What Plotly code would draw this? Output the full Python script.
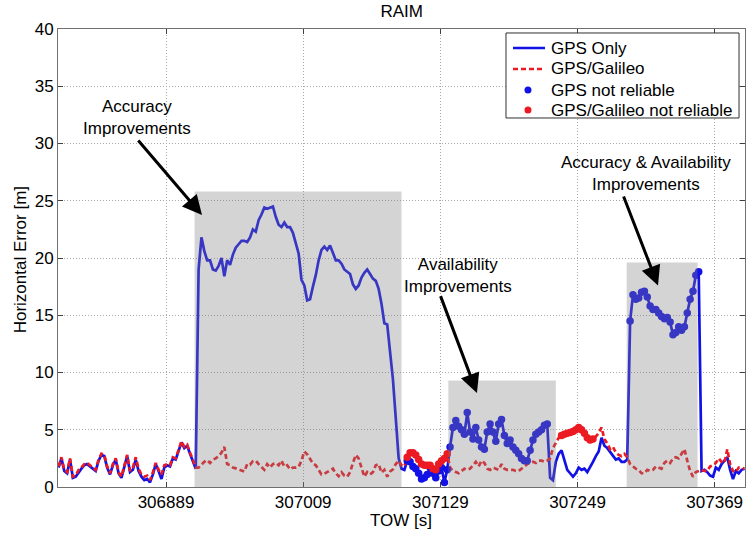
import plotly.graph_objects as go

# ---------------- data ----------------
# TOW [s] sampled every 2.5 s
tow = [306795 + 2.5 * k for k in range(241)]

gps_only = [
    1.7, 2.5, 1.4, 1.2, 2.4, 0.8, 0.9, 1.3, 1.6, 1.9,
    2.0, 1.8, 1.6, 1.4, 2.3, 2.8, 2.7, 1.7, 1.1, 1.9,
    2.4, 1.2, 0.8, 1.8, 2.7, 1.3, 1.5, 2.4, 1.4, 0.9,
    0.6, 0.7, 0.4, 1.1, 2.0, 1.4, 0.7, 1.7, 1.9, 1.8,
    2.5, 2.4, 3.2, 3.9, 3.4, 3.6, 2.9, 2.3, 1.6,
    19.0, 21.8, 20.6, 19.8, 19.8, 19.0, 18.9, 19.3, 20.0, 18.4, 19.8,
    19.4, 20.3, 20.9, 21.2, 21.5, 21.5, 21.4, 21.8, 22.5, 22.3,
    23.3, 23.8, 24.4, 24.3, 24.4, 24.5, 23.6, 22.9, 22.7, 23.1,
    22.7, 22.7, 22.2, 21.4, 20.4, 18.1, 17.6, 16.3, 16.4, 17.5,
    18.5, 19.8, 20.7, 21.0, 20.7, 21.1, 20.5, 19.8, 19.8, 19.5,
    19.0, 18.8, 18.6, 17.7, 17.3, 17.6, 18.3, 18.7, 19.0, 18.6,
    18.2, 18.0, 17.3, 16.0, 14.3, 14.2, 11.6, 9.4, 6.0, 2.5,
    1.6, 1.5, 2.3, 2.2, 1.8, 1.6, 1.2, 0.7, 0.8, 1.1,
    1.7, 1.2, 0.8, 1.4, 1.7, 0.4, 1.5, 3.5, 5.2, 5.8,
    5.3, 5.0, 4.6, 6.5, 4.8, 4.2, 5.2, 4.1, 3.5, 3.3,
    4.8, 5.5, 4.8, 4.0, 5.5, 5.9, 4.5, 3.8, 4.1, 3.5,
    3.2, 2.9, 2.5, 2.3, 2.3, 3.2, 4.1, 4.6, 4.8, 5.0,
    5.4, 5.5, 0.8, 0.6, 2.2, 2.9, 3.2, 2.4, 1.5, 1.2,
    0.9, 1.2, 1.7, 1.5, 1.6, 1.3, 1.7, 2.2, 2.7, 3.1,
    4.3, 3.6, 3.4, 3.1, 2.8, 2.4, 2.5, 2.2, 2.2, 2.4,
    14.5, 16.8, 16.4, 16.5, 17.0, 17.1, 16.6, 15.8, 15.5, 15.5,
    15.2, 14.9, 14.7, 14.8, 14.4, 13.3, 13.5, 14.0, 13.7, 14.0,
    15.2, 16.4, 17.1, 18.5, 18.8, 1.4, 1.5, 1.3, 1.0, 0.9,
    1.7, 1.5, 2.0, 2.3, 2.6, 1.5, 0.7, 1.4, 1.2, 1.5, 1.6,
]

gps_galileo = [
    1.8, 2.6, 1.5, 1.3, 2.5, 0.9, 1.0, 1.5, 1.7, 2.0,
    2.1, 1.9, 1.7, 1.5, 2.4, 2.9, 2.8, 1.8, 1.2, 2.0,
    2.5, 1.3, 0.9, 1.9, 2.8, 1.4, 1.7, 2.6, 1.6, 1.1,
    0.9, 1.0, 0.6, 1.3, 2.1, 1.5, 1.1, 1.9, 2.0, 1.9,
    2.6, 2.5, 3.3, 4.0, 3.5, 3.7, 3.0, 2.4, 1.7,
    1.7, 2.0, 2.2, 2.35, 2.1, 2.4, 2.5, 2.7, 3.0, 3.5, 2.0,
    1.9, 1.7, 1.63, 1.55, 1.45, 1.35, 2.0, 1.95, 2.25, 2.3,
    2.0, 1.7, 1.5, 2.0, 1.7, 2.0, 2.1, 1.9, 2.3, 1.77,
    1.9, 1.55, 1.7, 1.7, 1.75, 2.3, 3.1, 2.85, 2.5, 2.05,
    1.9, 1.55, 1.1, 1.15, 1.3, 1.5, 1.6, 1.2, 0.95, 1.3,
    1.0, 0.9, 1.3, 2.1, 2.8, 2.5, 1.6, 0.9, 1.3, 1.1,
    1.3, 1.9, 2.0, 1.25, 1.5, 0.9, 1.35, 1.55, 2.0, 2.3,
    1.9, 1.8, 2.6, 3.0, 3.0, 2.8, 2.4, 2.0, 1.9, 1.9,
    1.9, 1.6, 1.5, 2.0, 2.3, 2.5, 2.9, 1.7, 1.4, 1.3,
    1.2, 1.4, 1.6, 1.5, 1.6, 1.9, 2.2, 1.8, 2.3, 2.1,
    1.6, 1.5, 1.7, 1.6, 1.5, 2.0, 1.6, 1.5, 1.5, 1.5,
    1.4, 1.4, 1.6, 1.8, 2.0, 2.1, 2.2, 2.1, 2.3, 2.3,
    2.2, 2.3, 2.5, 3.4, 3.8, 4.3, 4.5, 4.6, 4.7, 4.75,
    4.85, 5.0, 5.2, 5.0, 4.7, 4.3, 4.1, 4.2, 4.4, 4.7,
    5.2, 4.2, 3.8, 3.3, 3.5, 3.0, 2.8, 2.7, 2.9, 2.6,
    2.0, 1.8, 1.6, 1.5, 1.2, 1.2, 1.5, 1.4, 1.5, 1.8,
    1.7, 1.6, 2.1, 2.3, 2.1, 2.5, 2.6, 2.5, 2.9, 3.3,
    2.3, 1.4, 0.9, 1.3, 1.4, 1.5, 1.4, 1.4, 1.8, 1.9,
    2.1, 2.5, 2.2, 2.1, 3.3, 2.0, 1.4, 1.3, 1.7, 1.7, 1.6,
]

# periods (TOW start, end) where the solution is flagged not reliable
gps_not_reliable_periods = [(307100, 307222.5), (307295, 307355)]
gal_not_reliable_periods = [(307100, 307135), (307235, 307262.5)]

# highlighted improvement regions
box_start = [306914, 307136, 307292]
box_end = [307095, 307230, 307354]
box_top = [25.8, 9.3, 19.6]

ann_text = ["Accuracy<br>Improvements", "Availability<br>Improvements",
            "Accuracy & Availability<br>Improvements"]
ann_text_x = [306863.6, 307144.4, 307308.9]
ann_text_y = [32.3, 18.5, 27.4]
arrow_tail_x = [306863.6, 307128.7, 307288.8]
arrow_tail_y = [30.4, 16.8, 25.5]
arrow_head_x = [306920.5, 307161.0, 307319.4]
arrow_head_y = [23.75, 8.2, 17.6]

x_ticks = [306889, 307009, 307129, 307249, 307369]
y_ticks = [0, 5, 10, 15, 20, 25, 30, 35, 40]

series_names = ["GPS Only", "GPS/Galileo", "GPS not reliable", "GPS/Galileo not reliable"]


def in_periods(t, periods):
    return any(a <= t <= b for a, b in periods)


gps_nr_x = [t for t in tow if in_periods(t, gps_not_reliable_periods)]
gps_nr_y = [v for t, v in zip(tow, gps_only) if in_periods(t, gps_not_reliable_periods)]
gal_nr_x = [t for t in tow if in_periods(t, gal_not_reliable_periods)]
gal_nr_y = [v for t, v in zip(tow, gps_galileo) if in_periods(t, gal_not_reliable_periods)]

# ---------------- figure ----------------
FONT = "Liberation Sans, Arial, Helvetica, sans-serif"
BLUE = "#1212e6"
RED = "#ec1a22"
DASH = "5px,3px"
FS = 17

fig = go.Figure()
fig.add_trace(go.Scatter(x=tow, y=gps_only, mode="lines", name=series_names[0],
                         line=dict(color=BLUE, width=2.7)))
fig.add_trace(go.Scatter(x=tow, y=gps_galileo, mode="lines", name=series_names[1],
                         line=dict(color=RED, width=2.7, dash=DASH)))
fig.add_trace(go.Scatter(x=gps_nr_x, y=gps_nr_y, mode="markers", name=series_names[2],
                         marker=dict(color=BLUE, size=7.5)))
fig.add_trace(go.Scatter(x=gal_nr_x, y=gal_nr_y, mode="markers", name=series_names[3],
                         marker=dict(color=RED, size=7.5)))

# translucent grey highlight boxes over the data
for x0, x1, top in zip(box_start, box_end, box_top):
    fig.add_shape(type="rect", xref="x", yref="y", x0=x0, x1=x1, y0=0, y1=top,
                  fillcolor="#808080", opacity=0.34, line=dict(width=0),
                  layer="above")

for txt, tx, ty in zip(ann_text, ann_text_x, ann_text_y):
    fig.add_annotation(x=tx, y=ty, xref="x", yref="y", text=txt, showarrow=False,
                       font=dict(family=FONT, size=FS, color="black"),
                       xanchor="center", yanchor="middle", align="center")

for hx, hy, tx, ty in zip(arrow_head_x, arrow_head_y, arrow_tail_x, arrow_tail_y):
    fig.add_annotation(x=hx, y=hy, ax=tx, ay=ty, xref="x", yref="y",
                       axref="x", ayref="y", text="", showarrow=True,
                       arrowhead=2, arrowsize=1.3, arrowwidth=3, arrowcolor="black")

# ---- legend box (MATLAB style) ----
fig.add_shape(type="rect", xref="paper", yref="paper", x0=0.6521, x1=0.9913,
              y0=0.8057, y1=0.9913, fillcolor="white",
              line=dict(color="#303030", width=1), layer="above")
row_y = [0.9585, 0.9127, 0.8668, 0.8231]
fig.add_shape(type="line", xref="paper", yref="paper", x0=0.6623, x1=0.7089,
              y0=row_y[0], y1=row_y[0], line=dict(color=BLUE, width=2.5), layer="above")
fig.add_shape(type="line", xref="paper", yref="paper", x0=0.6623, x1=0.7089,
              y0=row_y[1], y1=row_y[1], line=dict(color=RED, width=2.5, dash=DASH),
              layer="above")
for ry, col in [(row_y[2], BLUE), (row_y[3], RED)]:
    fig.add_shape(type="circle", xref="paper", yref="paper", xsizemode="pixel",
                  ysizemode="pixel", xanchor=0.6841, yanchor=ry, x0=-3.5, x1=3.5,
                  y0=-3.5, y1=3.5, fillcolor=col, line=dict(width=0), layer="above")
for ry, name in zip(row_y, series_names):
    fig.add_annotation(x=0.7147, y=ry, xref="paper", yref="paper", text=name,
                       showarrow=False, xanchor="left", yanchor="middle",
                       font=dict(family=FONT, size=FS, color="black"))

# ---- axis titles ----
fig.add_annotation(x=0.4993, y=-0.0742, xref="paper", yref="paper", text="TOW [s]",
                   showarrow=False, xanchor="center", yanchor="middle",
                   font=dict(family=FONT, size=FS, color="black"))
fig.add_annotation(x=-0.0553, y=0.495, xref="paper", yref="paper",
                   text="Horizontal Error [m]", textangle=-90,
                   showarrow=False, xanchor="center", yanchor="middle",
                   font=dict(family=FONT, size=FS, color="black"))

axis_common = dict(showline=True, linecolor="#707070", linewidth=1, mirror="ticks",
                   ticks="inside", ticklen=5, tickcolor="#404040",
                   showgrid=True, gridcolor="#a8a8a8", griddash="1px,2px", gridwidth=1,
                   zeroline=False, automargin=False,
                   tickfont=dict(family=FONT, size=FS, color="black"))

fig.update_xaxes(range=[306794.5, 307395.5], tickvals=x_ticks,
                 ticktext=[str(v) for v in x_ticks], **axis_common)
fig.update_yaxes(range=[0, 40], tickvals=y_ticks, **axis_common)

fig.update_layout(
    width=755, height=534,
    margin=dict(l=58, r=10, t=29, b=47, autoexpand=False),
    paper_bgcolor="white", plot_bgcolor="white",
    title=dict(text="RAIM", x=0.532, xanchor="center", y=0.980, yanchor="middle",
               font=dict(family=FONT, size=FS, color="black")),
    font=dict(family=FONT, size=FS, color="black"),
    showlegend=False,
)

fig.write_html("out.html",
               config={"displayModeBar": False, "staticPlot": True},
               post_script="document.body.style.margin='0';"
                           "document.body.style.overflow='hidden';")
